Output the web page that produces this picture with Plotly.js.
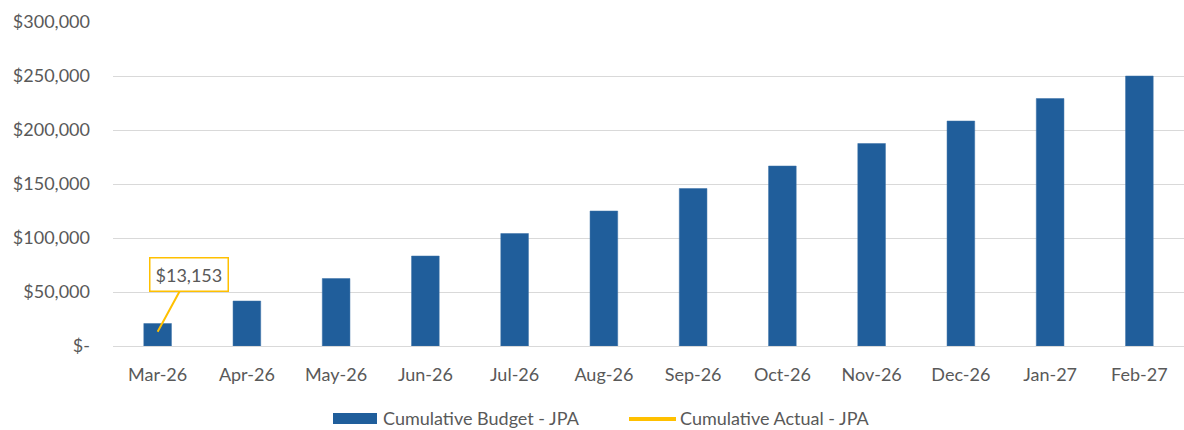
<!DOCTYPE html>
<html>
<head>
<meta charset="utf-8">
<script src="https://cdn.plot.ly/plotly-3.0.1.min.js"></script>
<style>html,body{margin:0;padding:0;background:#fff;}#chart{width:1184px;height:430px;}</style>
</head>
<body>
<div id="chart"></div>
<script>
const months = ["Mar-26","Apr-26","May-26","Jun-26","Jul-26","Aug-26","Sep-26","Oct-26","Nov-26","Dec-26","Jan-27","Feb-27"];
const budget = [20833,41667,62500,83333,104167,125000,145833,166667,187500,208333,229167,250000];
const actualMonths = ["Mar-26"];
const actual = [13153];
const yTickVals = [0,50000,100000,150000,200000,250000,300000];
const yTickText = ["$-","$50,000","$100,000","$150,000","$200,000","$250,000","$300,000"];
const actualLabel = "$13,153";
const seriesNames = ["Cumulative Budget - JPA","Cumulative Actual - JPA"];

const font = "Lato, 'Open Sans', sans-serif";
const textColor = "#595959";
const barColor = "#205E9B";
const lineColor = "#FFC000";

const W = 1184, H = 430, ML = 113, MR = 0, MT = 22, MB = 84;
const PW = W - ML - MR, PH = H - MT - MB;
const px = v => (v - ML) / PW;        // pixel x -> paper x
const py = v => (H - MB - v) / PH;    // pixel y -> paper y

const traces = [
  {type:"bar", name:seriesNames[0], x:months, y:budget,
   marker:{color:barColor, line:{color:"#3a70a6", width:0.5}}, showlegend:false},
  {type:"scatter", mode:"lines", name:seriesNames[1], x:actualMonths, y:actual,
   line:{color:lineColor, width:3}, showlegend:false}
];

const layout = {
  width:W, height:H,
  margin:{l:ML, r:MR, t:MT, b:MB, autoexpand:false},
  paper_bgcolor:"#fff", plot_bgcolor:"#fff",
  font:{family:font, size:18, color:textColor},
  bargap:0.69,
  xaxis:{type:"category", showgrid:false, showline:true, linecolor:"#d9d9d9", linewidth:1,
         ticks:"", ticklabelstandoff:12, tickfont:{size:18, color:textColor}, fixedrange:true, automargin:false},
  yaxis:{range:[0,300000], tickvals:yTickVals, ticktext:yTickText, showgrid:true,
         gridcolor:"#d9d9d9", gridwidth:1, zeroline:false, showline:false, ticks:"",
         ticklabelstandoff:22, tickfont:{size:18, color:textColor}, automargin:false, fixedrange:true},
  showlegend:false,
  shapes:[
    {type:"rect", xref:"paper", yref:"paper", x0:px(333), x1:px(377), y0:py(424), y1:py(413),
     fillcolor:barColor, line:{width:0}},
    {type:"line", xref:"paper", yref:"paper", x0:px(629), x1:px(676), y0:py(419), y1:py(419),
     line:{color:lineColor, width:4}}
  ],
  annotations:[
    {x:actualMonths[0], y:actual[0], xref:"x", yref:"y",
     text:actualLabel, showarrow:true, arrowhead:0, arrowwidth:2, arrowcolor:lineColor,
     ax:31, ay:-57, bordercolor:lineColor, borderwidth:1.5, borderpad:5, bgcolor:"#fff",
     font:{size:18, color:textColor}},
    {xref:"paper", yref:"paper", x:px(381), y:py(418), xanchor:"left", yanchor:"middle",
     text:seriesNames[0], showarrow:false, font:{size:18, color:textColor}},
    {xref:"paper", yref:"paper", x:px(678), y:py(418), xanchor:"left", yanchor:"middle",
     text:seriesNames[1], showarrow:false, font:{size:18, color:textColor}}
  ]
};

Plotly.newPlot("chart", traces, layout, {displayModeBar:false, staticPlot:true});
</script>
</body>
</html>
